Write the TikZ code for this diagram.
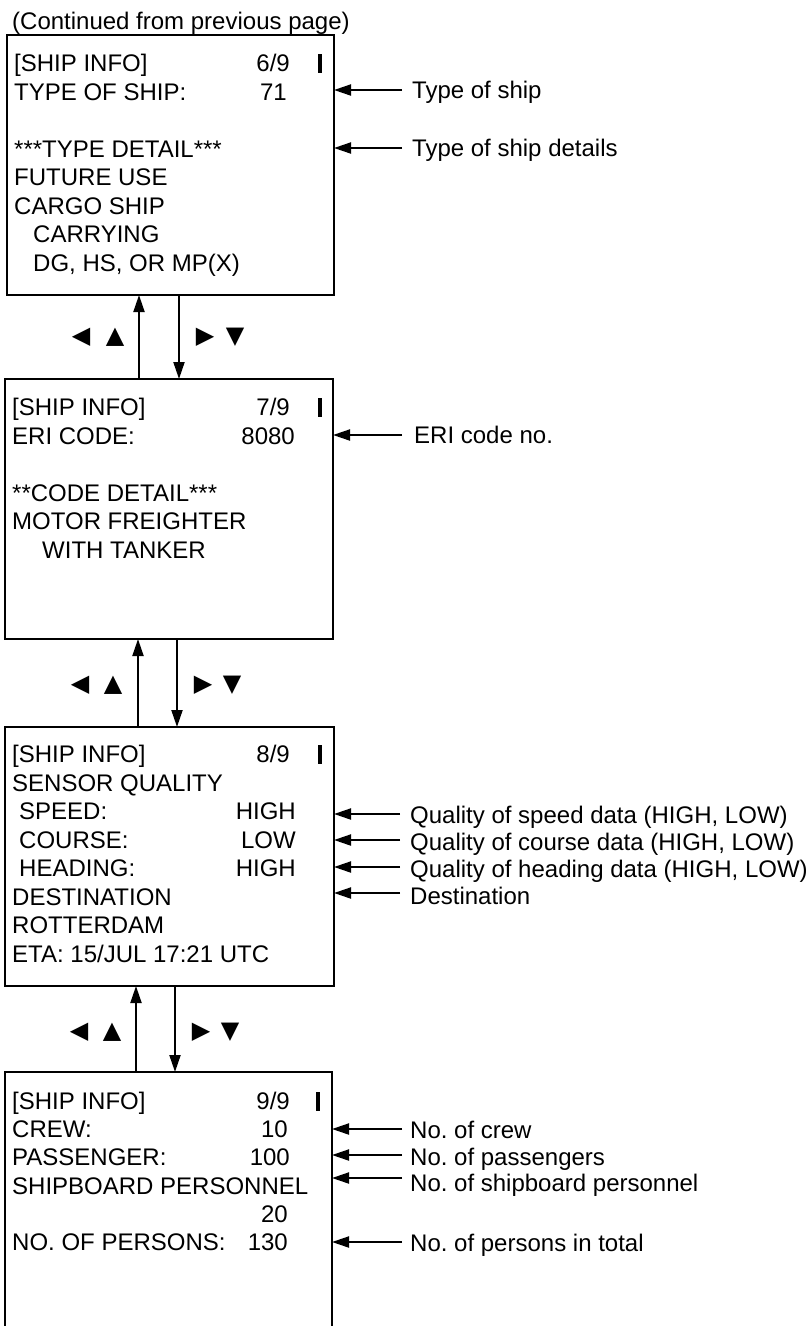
\documentclass[tikz,border=0pt]{standalone}
\usepackage{fontspec}
\setmainfont{Liberation Sans}
\newfontfamily\symfont{DejaVu Sans}
\usetikzlibrary{arrows.meta}
\frenchspacing
\begin{document}
\begin{tikzpicture}[x=1pt,y=-1pt,
  box/.style={draw, line width=2pt, inner sep=0pt, outer sep=0pt},
  txt/.style={font=\fontsize{24}{28}\selectfont\frenchspacing, inner sep=0pt, text height=17.2pt, text depth=0pt},
  lt/.style={txt, anchor=west},
  rt/.style={txt, anchor=east},
  lbl/.style={txt, anchor=west},
  arr/.style={line width=2pt, -{Triangle[length=17pt,width=11pt]}},
  sym/.style={font=\symfont\fontsize{24}{24}\selectfont, inner sep=0pt},
  cur/.style={line width=3.2pt}]
\useasboundingbox (0,0) rectangle (809,1326);

\node[lt] (title) at (12,21) {(Continued from previous page)};

% ---------- Box 1 ----------
\node[box, minimum width=327pt, minimum height=260pt] (box1) at (170.5,165) {};
\node[lt] (b1a) at (14,63) {[SHIP INFO]};
\node[rt] (b1av) at (290,63) {6/9};
\draw[cur] (320,54) -- (320,73);
\node[lt] (b1b) at (14,91.5) {TYPE OF SHIP:};
\node[rt] (b1bv) at (287,91.5) {71};
\node[lt] (b1c) at (14,148.5) {***TYPE DETAIL***};
\node[lt] (b1d) at (14,177) {FUTURE USE};
\node[lt] (b1e) at (14,205.5) {CARGO SHIP};
\node[lt] (b1f) at (33,234) {CARRYING};
\node[lt] (b1g) at (33,262.5) {DG, HS, OR MP(X)};

\coordinate (a11) at (402,90);
\node[lbl] (l11) at (412,90) {Type of ship};
\draw[arr] (a11) -- (a11 -| box1.east);
\coordinate (a12) at (402,148);
\node[lbl] (l12) at (412,148) {Type of ship details};
\draw[arr] (a12) -- (a12 -| box1.east);

% ---------- Box 2 ----------
\node[box, minimum width=328pt, minimum height=260pt] (box2) at (169,509) {};
\node[lt] (b2a) at (12,407) {[SHIP INFO]};
\node[rt] (b2av) at (290,407) {7/9};
\draw[cur] (320,398) -- (320,417);
\node[lt] (b2b) at (12,435.5) {ERI CODE:};
\node[rt] (b2bv) at (295,435.5) {8080};
\node[lt] (b2c) at (12,492.5) {**CODE DETAIL***};
\node[lt] (b2d) at (12,521) {MOTOR FREIGHTER};
\node[lt] (b2e) at (42,549.5) {WITH TANKER};

\coordinate (a21) at (402,435);
\node[lbl] (l21) at (414,435) {ERI code no.};
\draw[arr] (a21) -- (a21 -| box2.east);

% ---------- Box 3 ----------
\node[box, minimum width=329pt, minimum height=259pt] (box3) at (169.5,856.5) {};
\node[lt] (b3a) at (12,754) {[SHIP INFO]};
\node[rt] (b3av) at (290,754) {8/9};
\draw[cur] (320,745) -- (320,764);
\node[lt] (b3b) at (12,782.5) {SENSOR QUALITY};
\node[lt] (b3c) at (19,811) {SPEED:};
\node[rt] (b3cv) at (296,811) {HIGH};
\node[lt] (b3d) at (19,839.5) {COURSE:};
\node[rt] (b3dv) at (296,839.5) {LOW};
\node[lt] (b3e) at (19,868) {HEADING:};
\node[rt] (b3ev) at (296,868) {HIGH};
\node[lt] (b3f) at (12,896.5) {DESTINATION};
\node[lt] (b3g) at (12,925) {ROTTERDAM};
\node[lt] (b3h) at (12,953.5) {ETA: 15/JUL 17:21 UTC};

\coordinate (a31) at (400,814);
\node[lbl] (l31) at (410,815) {Quality of speed data (HIGH, LOW)};
\draw[arr] (a31) -- (a31 -| box3.east);
\coordinate (a32) at (400,840);
\node[lbl] (l32) at (410,842) {Quality of course data (HIGH, LOW)};
\draw[arr] (a32) -- (a32 -| box3.east);
\coordinate (a33) at (400,867);
\node[lbl] (l33) at (410,869) {Quality of heading data (HIGH, LOW)};
\draw[arr] (a33) -- (a33 -| box3.east);
\coordinate (a34) at (400,893);
\node[lbl] (l34) at (410,896) {Destination};
\draw[arr] (a34) -- (a34 -| box3.east);

% ---------- Box 4 (open at the bottom) ----------
\node[inner sep=0pt, outer sep=0pt, minimum width=327pt, minimum height=254pt] (box4) at (168.5,1199) {};
\draw[line width=2pt] (box4.south west) -- (box4.north west) -- (box4.north east) -- (box4.south east);
\node[lt] (b4a) at (12,1101) {[SHIP INFO]};
\node[rt] (b4av) at (290,1101) {9/9};
\draw[cur] (318,1092) -- (318,1111);
\node[lt] (b4b) at (12,1129) {CREW:};
\node[rt] (b4bv) at (288,1129) {10};
\node[lt] (b4c) at (12,1157) {PASSENGER:};
\node[rt] (b4cv) at (290,1157) {100};
\node[lt] (b4d) at (12,1186) {SHIPBOARD PERSONNEL};
\node[rt] (b4dv) at (288,1214) {20};
\node[lt] (b4e) at (12,1242) {NO. OF PERSONS:};
\node[rt] (b4ev) at (288,1242) {130};

\coordinate (a41) at (402,1129);
\node[lbl] (l41) at (410,1130) {No. of crew};
\draw[arr] (a41) -- (a41 -| box4.east);
\coordinate (a42) at (402,1155);
\node[lbl] (l42) at (410,1157) {No. of passengers};
\draw[arr] (a42) -- (a42 -| box4.east);
\coordinate (a43) at (402,1178);
\node[lbl] (l43) at (410,1183) {No. of shipboard personnel};
\draw[arr] (a43) -- (a43 -| box4.east);
\coordinate (a44) at (402,1242);
\node[lbl] (l44) at (410,1243) {No. of persons in total};
\draw[arr] (a44) -- (a44 -| box4.east);

% ---------- navigation arrows between boxes ----------
\coordinate (up1) at (139,0);
\coordinate (dn1) at (179,0);
\draw[arr] (up1 |- box2.north) -- (up1 |- box1.south);
\draw[arr] (dn1 |- box1.south) -- (dn1 |- box2.north);
\node[sym] (s1l) at (81,337) {◀};
\node[sym] (s1u) at (115,337) {▲};
\node[sym] (s1r) at (205,337) {▶};
\node[sym] (s1d) at (235,337) {▼};

\coordinate (up2) at (138,0);
\coordinate (dn2) at (177,0);
\draw[arr] (up2 |- box3.north) -- (up2 |- box2.south);
\draw[arr] (dn2 |- box2.south) -- (dn2 |- box3.north);
\node[sym] (s2l) at (80,685) {◀};
\node[sym] (s2u) at (113,685) {▲};
\node[sym] (s2r) at (203,685) {▶};
\node[sym] (s2d) at (232,685) {▼};

\coordinate (up3) at (136,0);
\coordinate (dn3) at (175,0);
\draw[arr] (up3 |- box4.north) -- (up3 |- box3.south);
\draw[arr] (dn3 |- box3.south) -- (dn3 |- box4.north);
\node[sym] (s3l) at (79,1032) {◀};
\node[sym] (s3u) at (112,1032) {▲};
\node[sym] (s3r) at (201,1032) {▶};
\node[sym] (s3d) at (230,1032) {▼};
\end{tikzpicture}
\end{document}
